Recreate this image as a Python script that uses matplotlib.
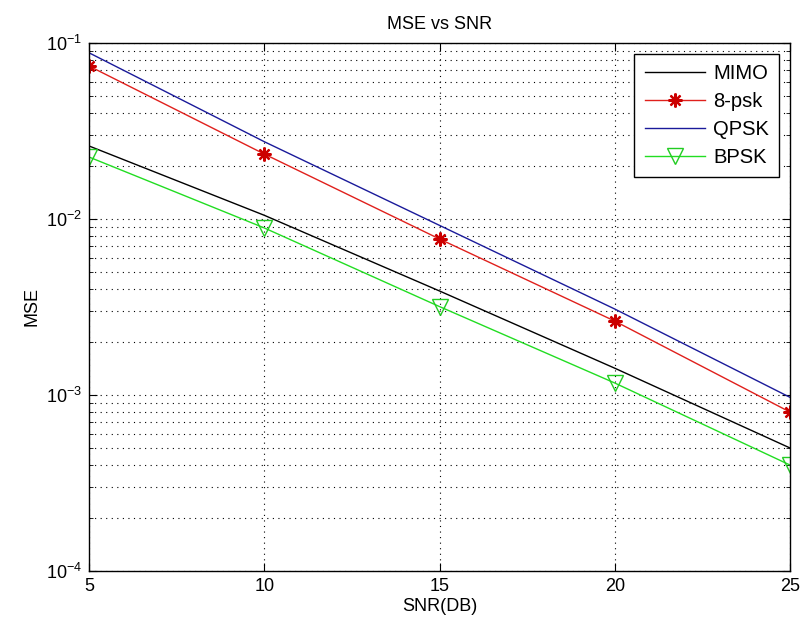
import matplotlib
matplotlib.use("Agg")
import matplotlib.pyplot as plt
from matplotlib.ticker import LogLocator, FixedLocator

snr = [5, 10, 15, 20, 25]
mimo = [0.026, 0.0105, 0.0039, 0.00142, 0.00050]
psk8 = [0.074, 0.0234, 0.0077, 0.00263, 0.00080]
qpsk = [0.088, 0.0275, 0.0092, 0.00308, 0.00097]
bpsk = [0.0225, 0.0089, 0.00318, 0.00117, 0.00040]

x_ticks = [5, 10, 15, 20, 25]

plt.rcParams['font.family'] = ['Liberation Sans', 'DejaVu Sans']
plt.rcParams['mathtext.default'] = 'regular'
plt.rcParams['font.size'] = 13

fig = plt.figure(figsize=(8.01, 6.29), dpi=100)
ax = fig.add_axes([89/801, 1 - 571/629, 701/801, 528/629])

ax.semilogy(snr, mimo, color='k', lw=1, label='MIMO')
ax.semilogy(snr, psk8, color='#e0201c', lw=1, marker=(8, 2, 0), markersize=10,
            markeredgewidth=1.6, markeredgecolor='#cc0000', label='8-psk')
ax.semilogy(snr, qpsk, color='#1a1a9a', lw=1, label='QPSK')
ax.semilogy(snr, bpsk, color='#22dd22', lw=1, marker='v', markersize=11,
            markerfacecolor='none', markeredgecolor='#22cc22', label='BPSK')

ax.set_xlim(5, 25)
ax.set_ylim(1e-4, 1e-1)
ax.xaxis.set_major_locator(FixedLocator(x_ticks))
ax.yaxis.set_major_locator(LogLocator(base=10, numticks=10))
ax.yaxis.set_minor_locator(LogLocator(base=10, subs=range(2, 10), numticks=20))

ax.grid(True, which='major', axis='both', color='k', linestyle=(0, (1, 4)), lw=0.8)
ax.grid(True, which='minor', axis='y', color='k', linestyle=(0, (1, 4)), lw=0.8)

ax.tick_params(which='both', direction='in', top=True, right=True)
ax.tick_params(which='major', length=6, labelsize=13, pad=5)
ax.tick_params(which='minor', length=3)
for s in ax.spines.values():
    s.set_linewidth(1)

ax.set_xlabel('SNR(DB)', fontsize=13, labelpad=2)
ax.set_ylabel('MSE', fontsize=13)
ax.set_title('MSE vs SNR', fontsize=13, pad=10)

leg = ax.legend(loc='upper right', fancybox=False, edgecolor='k', framealpha=1,
                fontsize=14.5, handlelength=3.0, borderaxespad=0.55,
                labelspacing=0.45, borderpad=0.5, handletextpad=0.4)
leg.get_frame().set_linewidth(1)

fig.savefig('out.png', dpi=100)
